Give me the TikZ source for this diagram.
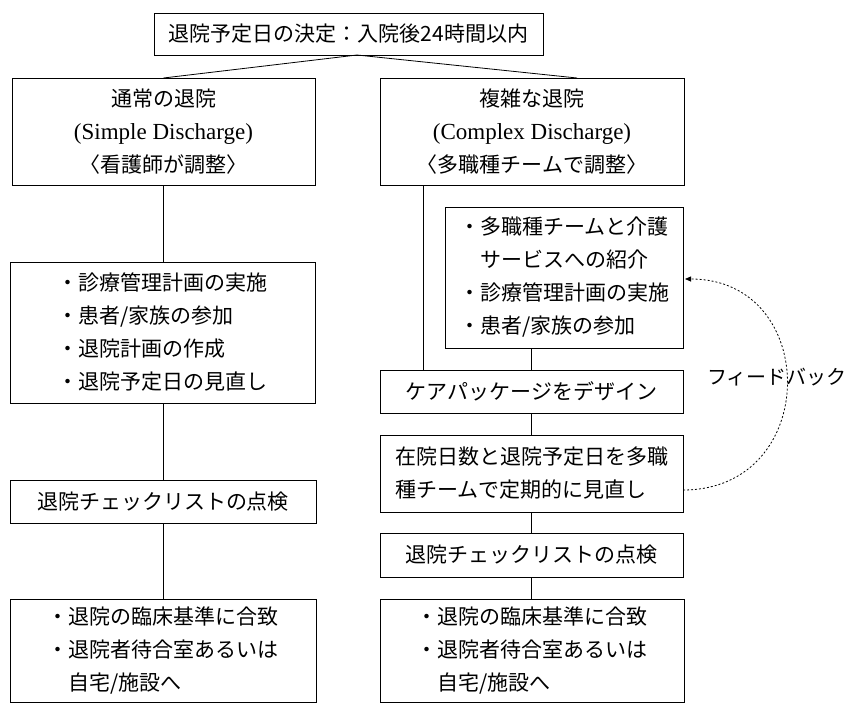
\documentclass[tikz,border=0pt]{standalone}
\usepackage{fontspec}
\setmainfont{Liberation Serif}
\newfontfamily\jp{Noto Sans CJK JP}
\usetikzlibrary{arrows.meta}
\begin{document}
\begin{tikzpicture}[x=1pt,y=-1pt,
  box/.style={draw, line width=0.9pt, inner sep=0pt, outer sep=0pt, align=center,
              font=\jp\fontsize{21}{33}\selectfont},
  lbox/.style={box, align=left},
  latin/.style={},
  conn/.style={line width=0.8pt},
  fb/.style={line width=0.8pt, dash pattern=on 2pt off 2pt}]
\useasboundingbox (0,0) rectangle (851,704);

\node[box, minimum width=389pt, minimum height=42pt] (top) at (348.5,34)
  {退院予定日の決定：入院後24時間以内};

\node[box, minimum width=303pt, minimum height=107pt] (L1) at (163.5,131.5)
  {通常の退院\\{\rmfamily\fontsize{23}{33}\selectfont (Simple Discharge)}\\〈看護師が調整〉};
\node[box, minimum width=304pt, minimum height=107pt] (R1) at (532,131.5)
  {複雑な退院\\{\rmfamily\fontsize{23}{33}\selectfont (Complex Discharge)}\\〈多職種チームで調整〉};

\node[lbox, minimum width=305pt, minimum height=141pt] (L2) at (162.5,332.5)
  {・診療管理計画の実施\\・患者/家族の参加\\・退院計画の作成\\・退院予定日の見直し};
\node[lbox, minimum width=238pt, minimum height=141pt] (Rmid) at (564,277.5)
  {・多職種チームと介護\\\phantom{・}サービスへの紹介\\・診療管理計画の実施\\・患者/家族の参加};

\node[box, minimum width=303pt, minimum height=43pt] (Rcare) at (531.5,391.5)
  {ケアパッケージをデザイン};
\node[lbox, minimum width=303pt, minimum height=77pt] (Rrev) at (531.5,473.5)
  {在院日数と退院予定日を多職\\種チームで定期的に見直し};

\node[box, minimum width=306pt, minimum height=43pt] (Lcheck) at (163,501.5)
  {退院チェックリストの点検};
\node[box, minimum width=303pt, minimum height=44pt] (Rcheck) at (531.5,555)
  {退院チェックリストの点検};

\node[lbox, minimum width=306pt, minimum height=103pt] (Lfinal) at (163,650.5)
  {・退院の臨床基準に合致\\・退院者待合室あるいは\\\phantom{・}自宅/施設へ};
\node[lbox, minimum width=304pt, minimum height=103pt] (Rfinal) at (532,650.5)
  {・退院の臨床基準に合致\\・退院者待合室あるいは\\\phantom{・}自宅/施設へ};

% connectors
\coordinate (tj) at ([xshift=8.5pt]top.south);
\draw[conn] (tj) -- (L1.north);
\draw[conn] (tj) -- ([xshift=45pt]R1.north);

\draw[conn] (L1.south) -- (L1.south |- L2.north);
\draw[conn] (L1.south |- L2.south) -- (L1.south |- Lcheck.north);
\draw[conn] (Lcheck.south) -- (Lfinal.north);

\draw[conn] ([xshift=-109pt]R1.south) -- ([xshift=-109pt]R1.south |- Rcare.north);
\draw[conn] (Rcare.north |- Rmid.south) -- (Rcare.north);
\draw[conn] (Rcare.south) -- (Rrev.north);
\draw[conn] (Rrev.south) -- (Rcheck.north);
\draw[conn] (Rcheck.south) -- (Rcheck.south |- Rfinal.north);

% feedback
\coordinate (fbA) at ([yshift=22pt]Rrev.south east);
\coordinate (fbB) at ([yshift=-72pt,xshift=2pt]Rmid.north east);
\draw[fb, -{Triangle[length=6pt,width=5pt]}] (fbA) .. controls +(138,0) and +(136,0) .. (fbB);
\node[font=\jp\fontsize{20}{24}\selectfont, inner sep=0pt] (fbl) at (777,377) {フィードバック};
\end{tikzpicture}
\end{document}
